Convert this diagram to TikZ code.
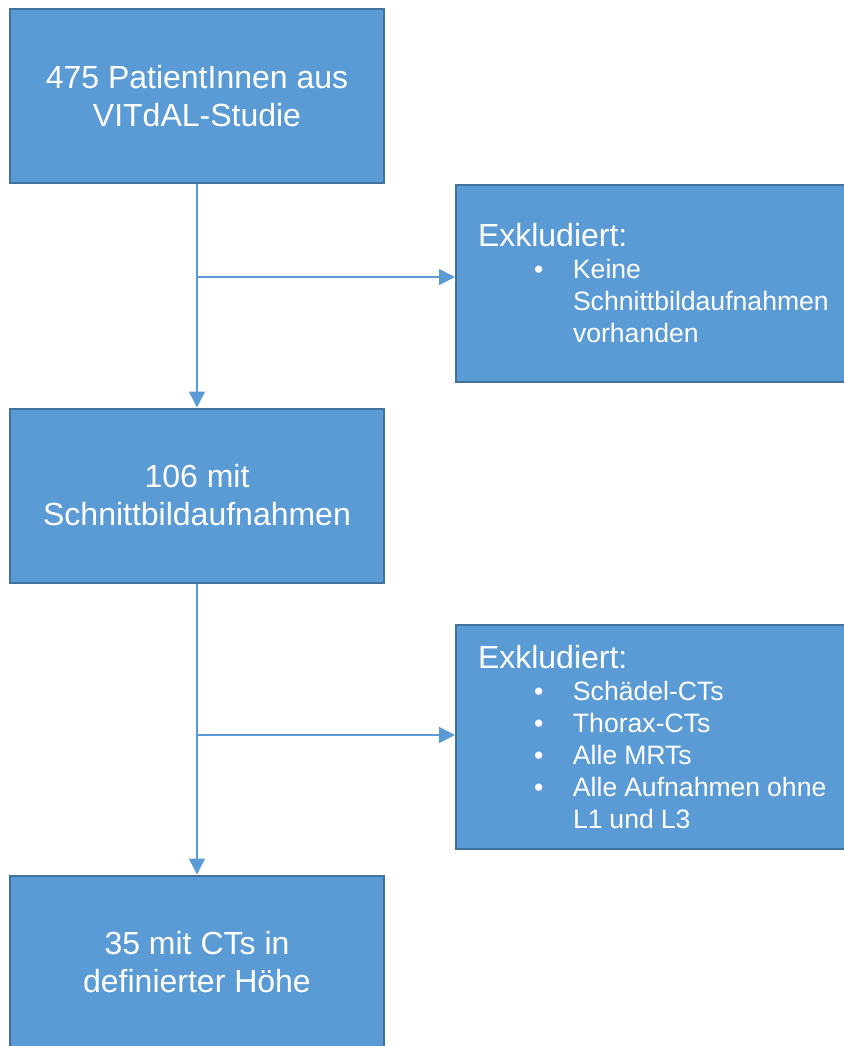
\documentclass[tikz,border=0pt]{standalone}
\usepackage{fontspec}
\setmainfont{Liberation Sans}
\usetikzlibrary{positioning,arrows.meta}
\definecolor{boxfill}{HTML}{5B9BD5}
\definecolor{boxedge}{HTML}{41719C}
\newcommand{\exclitem}[1]{\par{\fontsize{13.3}{16}\selectfont\hspace*{28pt}\makebox[19.5pt][l]{\textbullet}\parbox[t]{140pt}{\raggedright\fontsize{13.3}{16}\selectfont\spaceskip=0.26em\relax #1}\par}}

\begin{document}
\begin{tikzpicture}[x=0.5pt,y=-0.5pt,
    stagebox/.style={draw=boxedge,line width=1pt,fill=boxfill,text=white,minimum width=187pt,minimum height=87pt,inner sep=0pt,align=center,font=\fontsize{16}{19}\selectfont},
    exclbox/.style={draw=boxedge,line width=1pt,fill=boxfill,text=white,anchor=west,text width=176pt,inner xsep=11pt,inner ysep=0pt,minimum height=#1,align=left,font=\fontsize{16}{19}\selectfont},
    flowline/.style={boxfill,line width=0.75pt,-{Triangle[length=8pt,width=8pt]}}]
    \useasboundingbox (0,0) rectangle (843,1046);
    \node[stagebox] (alle) at (197,96) {475 PatientInnen aus\\VITdAL-Studie};
    \node[stagebox] (bild) at (197,495.5) {106 mit\\Schnittbildaufnahmen};
    \node[stagebox] (hoehe) at (197,962.5) {35 mit CTs in\\definierter Höhe};
    \node[exclbox=98.5pt] (excl1) at (455,283) {Exkludiert:\exclitem{Keine\\Schnittbildaufnahmen\\vorhanden}};
    \node[exclbox=112pt] (excl2) at (455,737) {Exkludiert:\exclitem{Schädel-CTs}\exclitem{Thorax-CTs}\exclitem{Alle MRTs}\exclitem{Alle Aufnahmen ohne\\L1 und L3}};
    \coordinate (fork1) at (197,277); \coordinate (fork2) at (197,735);
    \draw[flowline](alle.south)--(bild.north); \draw[flowline](bild.south)--(hoehe.north);
    \draw[flowline](fork1)--(fork1 -| excl1.west); \draw[flowline](fork2)--(fork2 -| excl2.west);
  \end{tikzpicture}
\end{document}
